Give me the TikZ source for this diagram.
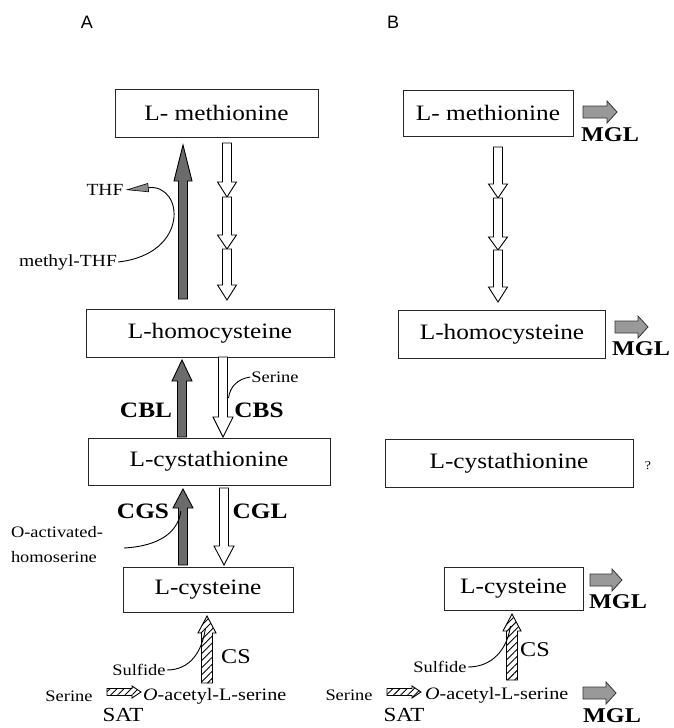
\documentclass[tikz,border=0pt]{standalone}
\usepackage{fontspec}
\setmainfont{Liberation Serif}[FakeStretch=1.15]
\newfontfamily\panelfont{Liberation Sans}
\usetikzlibrary{calc,arrows.meta,patterns.meta}

% block arrow: style, tail, tip, shaft half width, head half width, head length
\newcommand\fatarrow[6]{%
  \coordinate (fahb) at ($(#3)!#6!(#2)$);
  \path[#1] ($(#2)!#4!90:(#3)$) -- ($(fahb)!#4!90:(#3)$) -- ($(fahb)!#5!90:(#3)$)
    -- (#3) -- ($(fahb)!#5!-90:(#3)$) -- ($(fahb)!#4!-90:(#3)$)
    -- ($(#2)!#4!-90:(#3)$) -- cycle;}

\tikzset{
  x=1pt, y=-1pt,
  box/.style={draw=black!85, line width=1pt, inner sep=0pt, font=\fontsize{22}{24}\selectfont},
  enz/.style={font=\fontsize{22}{24}\selectfont\bfseries},
  mgl/.style={font=\fontsize{21}{24}\selectfont\bfseries},
  small/.style={font=\fontsize{16}{25}\selectfont, inner sep=1pt},
  oas/.style={font=\fontsize{17.5}{20}\selectfont, inner sep=1pt},
  mid/.style={font=\fontsize{17}{20}\selectfont, inner sep=1pt},
  big/.style={font=\fontsize{21}{24}\selectfont, inner sep=1pt},
  sat/.style={font=\fontsize{20}{22}\selectfont, inner sep=0pt},
  panel/.style={font=\panelfont\fontsize{18}{20}\selectfont},
  darkarrow/.style={draw=black, line width=0.9pt, fill=black!58},
  openarrow/.style={draw=black, line width=0.9pt, fill=white},
  greyarrow/.style={draw=black!80, line width=0.8pt, fill=black!40},
  hatcharrow/.style={draw=black, line width=0.9pt, preaction={fill=white},
    pattern={Lines[angle=45,distance=5pt,line width=0.9pt]}},
  curve/.style={draw=black, line width=0.9pt},
}

\begin{document}
\begin{tikzpicture}
\useasboundingbox (0,0) rectangle (673,728);

% panel letters
\node[panel] (lblA) at (87,22) {A};
\node[panel] (lblB) at (393,22) {B};

% ---------------- panel A ----------------
\node[box, minimum width=203pt, minimum height=48pt] (metA) at (216.5,113) {L- methionine};
\node[box, minimum width=248pt, minimum height=48pt] (hcyA) at (210,333) {L-homocysteine};
\node[box, minimum width=242pt, minimum height=47pt] (cthA) at (209,461.5) {L-cystathionine};
\node[box, minimum width=170pt, minimum height=45pt] (cysA) at (208,590) {L-cysteine};

% methionine synthase route (dark) and the three-step open route
\coordinate (msT) at (183,299); \coordinate (msH) at (183,145);
\fatarrow{darkarrow}{msT}{msH}{4.5pt}{9pt}{36pt}
\coordinate (d1a) at (227,143); \coordinate (d1b) at (227,197);
\coordinate (d2b) at (227,249); \coordinate (d3b) at (227,300);
\fatarrow{openarrow}{d1a}{d1b}{4.5pt}{9.5pt}{15pt}
\fatarrow{openarrow}{d1b}{d2b}{4.5pt}{9.5pt}{14pt}
\fatarrow{openarrow}{d2b}{d3b}{4.5pt}{9.5pt}{15pt}

\node[mid] (thf) at (105,190) {THF};
\node[mid] (mthf) at (68,262) {methyl-THF};
\draw[curve, shorten >=1pt, -{Triangle[length=23pt,width=9pt,fill=black!45,line width=0.6pt]}]
  (mthf.east) .. controls (190,254) and (184,184) .. (thf.east);

% CBL / CBS
\coordinate (cblT) at (182,437); \coordinate (cblH) at (182,360);
\fatarrow{darkarrow}{cblT}{cblH}{4.5pt}{10pt}{21pt}
\coordinate (cbsT) at (223,357); \coordinate (cbsH) at (223,437);
\fatarrow{openarrow}{cbsT}{cbsH}{4.5pt}{10pt}{20pt}
\node[enz] (cbl) at (146,410) {CBL};
\node[enz] (cbs) at (259,410) {CBS};
\node[small] (serCBS) at (275,377) {Serine};
\coordinate (cbsJ) at (228.5,398);
\draw[curve] (serCBS.west) .. controls (237,379) and (230,387) .. (cbsJ);

% CGS / CGL
\coordinate (cgsT) at (183,565); \coordinate (cgsH) at (183,489);
\fatarrow{darkarrow}{cgsT}{cgsH}{4.5pt}{10pt}{19pt}
\coordinate (cglT) at (224,488); \coordinate (cglH) at (224,565);
\fatarrow{openarrow}{cglT}{cglH}{4.5pt}{10pt}{19pt}
\node[enz] (cgs) at (143,511) {CGS};
\node[enz] (cgl) at (260,511) {CGL};
\node[small, align=left] (oah) at (57,545) {O-activated-\\homoserine};
\coordinate (oahS) at (124,548); \coordinate (oahJ) at (181,511);
\draw[curve] (oahS) .. controls (160,546) and (178,532) .. (oahJ);

% cysteine synthase route
\coordinate (csAT) at (207,683); \coordinate (csAH) at (207,616);
\fatarrow{hatcharrow}{csAT}{csAH}{5.5pt}{9pt}{17pt}
\node[big] (csA) at (236,657) {CS};
\node[small] (sulfA) at (139,670) {Sulfide};
\coordinate (csAJ) at (205.5,628);
\draw[curve] (sulfA.east) .. controls (190,670) and (202,652) .. (csAJ);

\node[small] (serA) at (69,696) {Serine};
\coordinate (satAT) at (107,692); \coordinate (satAH) at (141,692);
\fatarrow{hatcharrow}{satAT}{satAH}{3.5pt}{6pt}{9pt}
\node[oas, anchor=west] (oasA) at (142,696) {\textit{O}-acetyl-L-serine};
\node[sat] (satA) at (123,715) {SAT};

% ---------------- panel B ----------------
\node[box, minimum width=170pt, minimum height=46pt] (metB) at (488,113) {L- methionine};
\node[box, minimum width=207pt, minimum height=48pt] (hcyB) at (502,334) {L-homocysteine};
\node[box, minimum width=248pt, minimum height=48pt] (cthB) at (509,463) {L-cystathionine};
\node[box, minimum width=139pt, minimum height=43pt] (cysB) at (513.5,588.5) {L-cysteine};
\node[font=\fontsize{12}{14}\selectfont] (qmark) at (648,466) {?};

\coordinate (e1a) at (498,147); \coordinate (e1b) at (498,198);
\coordinate (e2b) at (498,250); \coordinate (e3b) at (498,302);
\fatarrow{openarrow}{e1a}{e1b}{4.5pt}{9.5pt}{14pt}
\fatarrow{openarrow}{e1b}{e2b}{4.5pt}{9.5pt}{13pt}
\fatarrow{openarrow}{e2b}{e3b}{4.5pt}{9.5pt}{15pt}

% MGL arrows
\coordinate (g1a) at (583,112); \coordinate (g1b) at (617,112);
\fatarrow{greyarrow}{g1a}{g1b}{6pt}{11pt}{10pt}
\node[mgl] (mgl1) at (610,135) {MGL};
\coordinate (g2a) at (615,327); \coordinate (g2b) at (648,327);
\fatarrow{greyarrow}{g2a}{g2b}{6pt}{11pt}{10pt}
\node[mgl] (mgl2) at (641,349) {MGL};
\coordinate (g3a) at (590,580); \coordinate (g3b) at (622,580);
\fatarrow{greyarrow}{g3a}{g3b}{6pt}{11pt}{10pt}
\node[mgl] (mgl3) at (618,602) {MGL};
\coordinate (g4a) at (583,693); \coordinate (g4b) at (616,693);
\fatarrow{greyarrow}{g4a}{g4b}{6pt}{11pt}{10pt}
\node[mgl] (mgl4) at (612,716) {MGL};

% cysteine synthase route
\coordinate (csBT) at (512,680); \coordinate (csBH) at (512,614);
\fatarrow{hatcharrow}{csBT}{csBH}{5.5pt}{9pt}{17pt}
\node[big] (csB) at (535,650) {CS};
\node[small] (sulfB) at (440,667) {Sulfide};
\coordinate (csBJ) at (510.5,626);
\draw[curve] (sulfB.east) .. controls (492,667) and (507,650) .. (csBJ);

\node[small] (serB) at (349,695) {Serine};
\coordinate (satBT) at (387,692); \coordinate (satBH) at (421,692);
\fatarrow{hatcharrow}{satBT}{satBH}{3.5pt}{6pt}{9pt}
\node[oas, anchor=west] (oasB) at (424,695) {\textit{O}-acetyl-L-serine};
\node[sat] (satB) at (404,715) {SAT};
\end{tikzpicture}
\end{document}
